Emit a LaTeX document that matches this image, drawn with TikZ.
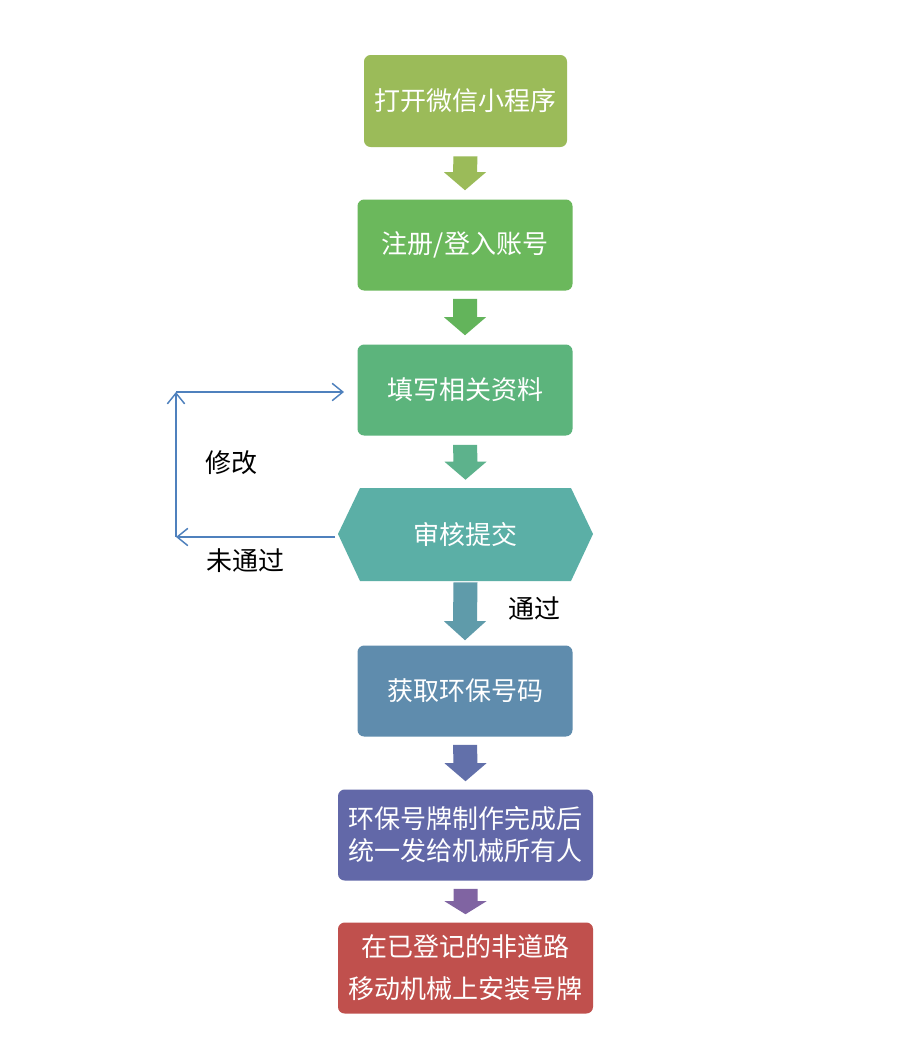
\documentclass[tikz,border=0pt]{standalone}
\usepackage{fontspec}
\newfontfamily\cjk{Noto Sans CJK SC}
\usetikzlibrary{arrows.meta,calc}
\definecolor{cA}{HTML}{9BBB59}
\definecolor{aA}{HTML}{9BBB59}
\definecolor{cB}{HTML}{6BB85C}
\definecolor{aB}{HTML}{63B45B}
\definecolor{cC}{HTML}{5CB47C}
\definecolor{aC}{HTML}{5DB28C}
\definecolor{cD}{HTML}{5BAFA6}
\definecolor{aD}{HTML}{5F9BAA}
\definecolor{cE}{HTML}{5F8CAD}
\definecolor{aE}{HTML}{6270AA}
\definecolor{cF}{HTML}{6268A8}
\definecolor{aF}{HTML}{8064A2}
\definecolor{cG}{HTML}{C0504D}
\definecolor{lnblue}{HTML}{4F81BD}
\tikzset{
  box/.style={rounded corners=5pt, inner sep=0pt, align=center, text=white,
    font=\cjk\fontsize{19.5pt}{24pt}\selectfont, minimum height=68.25pt},
  narrowbox/.style={box, minimum width=161.25pt},
  widebox/.style={box, minimum width=191.25pt},
  lbl/.style={font=\cjk\fontsize{19.5pt}{24pt}\selectfont, text=black, inner sep=0pt},
  loopline/.style={draw=lnblue, line width=1.1pt, -{Straight Barb[length=8pt,width=13pt,line width=1.1pt]}},
}
% block arrow: color, from node, to node, head length (px), top gap, bottom gap
\newcommand{\blockarr}[6]{%
  \fill[#1] ($(#2.south)+(-12,#5)$) -- ($(#2.south)+(12,#5)$) --
    ($(#3.north)+(12,-#6-#4)$) -- ($(#3.north)+(21,-#6-#4)$) --
    ($(#3.north)+(0,-#6)$) -- ($(#3.north)+(-21,-#6-#4)$) --
    ($(#3.north)+(-12,-#6-#4)$) -- cycle;}
\begin{document}
\begin{tikzpicture}[x=0.75pt,y=-0.75pt]
\useasboundingbox (0,0) rectangle (908,1061);
\fill[white] (0,0) rectangle (908,1061);
\node[box, fill=cA, minimum width=152.25pt, minimum height=69pt] (b1) at (465.5,101) {打开微信小程序};
\node[narrowbox, fill=cB] (b2) at (465,245) {注册/登入账号};
\node[narrowbox, fill=cC] (b3) at (465,390) {填写相关资料};
\fill[cD] (338,534) -- (360,488) -- (571,488) -- (593,534) -- (571,581) -- (360,581) -- cycle;
\node[box, minimum width=191.25pt, minimum height=69.75pt] (b4) at (465.5,534.5) {审核提交};
\node[narrowbox, fill=cE] (b5) at (465,691) {获取环保号码};
\node[widebox, fill=cF] (b6) at (465.5,835) {环保号牌制作完成后\\统一发给机械所有人};
\node[widebox, fill=cG, font=\cjk\fontsize{19.5pt}{31.5pt}\selectfont] (b7) at (465.5,968) {在已登记的非道路\\移动机械上安装号牌};
\blockarr{aA}{b1}{b2}{18}{9}{9}
\blockarr{aB}{b2}{b3}{18}{8}{9}
\blockarr{aC}{b3}{b4}{18}{9}{8}
\blockarr{aD}{b4}{b5}{19}{1}{5}
\blockarr{aE}{b5}{b6}{18}{8}{8}
\blockarr{aF}{b6}{b7}{13}{8}{8}
\coordinate (s) at (335,537);
\coordinate (c1) at (176,537);
\coordinate (c2) at (176,392);
\coordinate (e) at (344,392);
\draw[loopline] (s) -- (c1);
\draw[loopline] (c1) -- (c2);
\draw[loopline] (c2) -- (e);
\node[lbl] (l1) at (231,463) {修改};
\node[lbl] (l2) at (245,561) {未通过};
\node[lbl] (l3) at (534,609) {通过};
\end{tikzpicture}
\end{document}
